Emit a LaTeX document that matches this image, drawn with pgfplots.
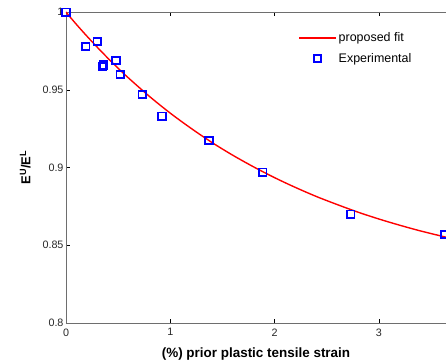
\documentclass[border=0pt]{standalone}
\usepackage{pgfplots}
\pgfplotsset{compat=1.18}
\usepackage{fontspec}
\setmainfont{Liberation Sans}
\definecolor{axgray}{RGB}{110,110,110}
\definecolor{txtgray}{RGB}{40,40,40}
\pgfplotsset{
  fitlegend/.style={legend image code/.code={\draw[##1] (0bp,0bp) -- (37bp,0bp);}},
  marklegend/.style={legend image code/.code={\draw[##1] plot coordinates {(18.5bp,0bp)};}},
}
\begin{document}
\begin{tikzpicture}
\useasboundingbox (-66bp,-37bp) rectangle (380bp,323bp);
\begin{axis}[
  scale only axis,
  width=380bp, height=311bp,
  xmin=0, xmax=3.643,
  ymin=0.8, ymax=1.0001,
  axis line style={axgray, line width=1pt},
  xtick={0,1,2,3},
  ytick={0.8,0.85,0.9,0.95,1},
  tick align=inside,
  major tick length=4bp,
  tick style={black, line width=0.6pt},
  xtick pos=both,
  ytick pos=left,
  tick label style={font=\fontsize{10.8}{12}\selectfont, text=txtgray},
  /pgf/number format/assume math mode=true,
  yticklabel style={/pgf/number format/fixed, xshift=1bp},
  xticklabel style={yshift=-2bp},
  xlabel={\textbf{(\%) prior plastic tensile strain}},
  xlabel style={font=\fontsize{13.5}{15}\selectfont, yshift=-5bp},
  ylabel={\textbf{E\textsuperscript{U}/E\textsuperscript{L}}},
  ylabel style={font=\fontsize{13}{15}\selectfont, yshift=5bp},
  legend style={draw=none, fill=none, at={(0.603,0.884)}, anchor=west,
    font=\fontsize{12.5}{14}\selectfont, row sep=4bp,
    nodes={inner ysep=3bp}},
  legend cell align=left,
  clip mode=global,
]
\addplot[color=red, line width=1.4pt, smooth, fitlegend]
coordinates {
(0,1.0) (0.1,0.9921) (0.2,0.9846) (0.3,0.9774) (0.4,0.9705) (0.5,0.9639)
(0.6,0.9576) (0.8,0.9458) (1.0,0.9350) (1.2,0.9252) (1.4,0.9161) (1.6,0.9079)
(1.8,0.9004) (2.0,0.8935) (2.2,0.8872) (2.4,0.8814) (2.6,0.8762) (2.8,0.8713)
(3.0,0.8669) (3.2,0.8629) (3.4,0.8592) (3.6,0.8559) (3.7,0.8543)
};
\addlegendentry{proposed fit}
\addplot[only marks, mark=square, mark size=3.7bp, color=blue, draw=blue,
  mark options={line width=1.8pt, fill=white, draw=blue}, marklegend]
coordinates {
(0,1.0) (0.19,0.978) (0.30,0.981) (0.35,0.965) (0.36,0.966) (0.48,0.969)
(0.52,0.960) (0.73,0.947) (0.92,0.933) (1.37,0.9174) (1.886,0.897)
(2.73,0.870) (3.63,0.857)
};
\addlegendentry{Experimental}
\end{axis}
\end{tikzpicture}
\end{document}
